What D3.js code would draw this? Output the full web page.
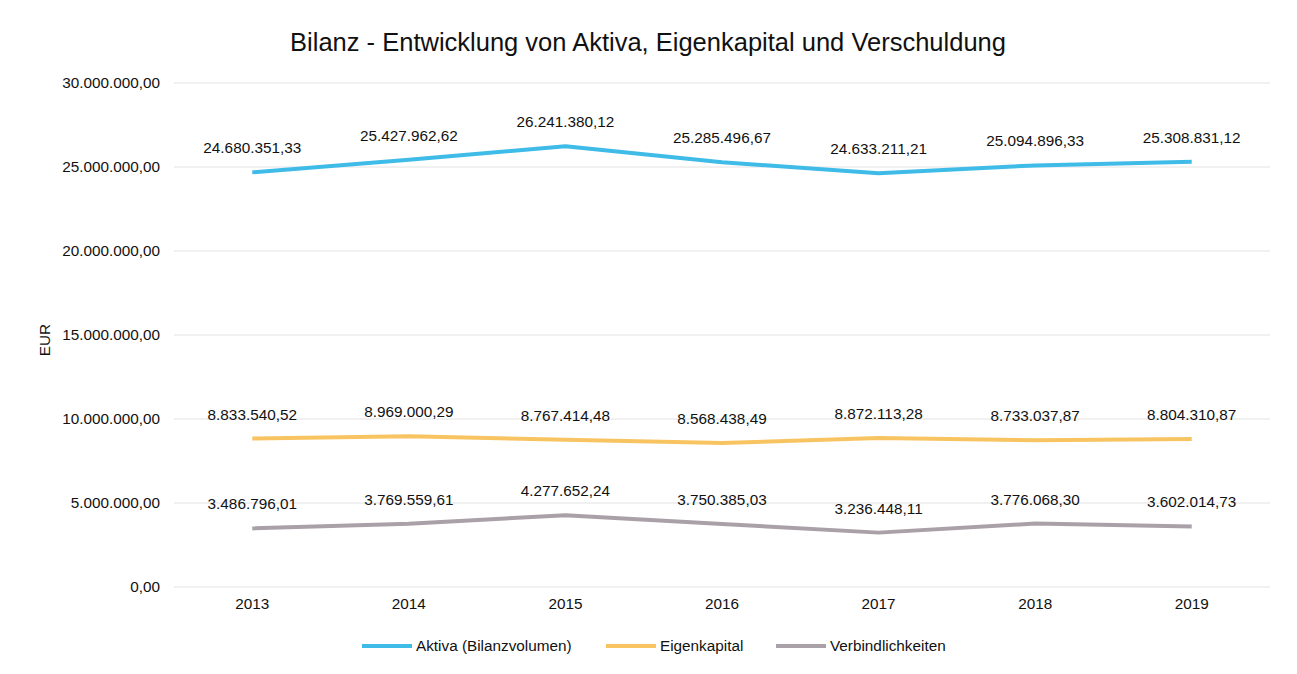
<!DOCTYPE html>
<html>
<head>
<meta charset="utf-8">
<script src="https://cdn.jsdelivr.net/npm/d3@7"></script>
<style>
  body { margin: 0; background: #fff; }
  svg { font-family: "Liberation Sans", Arial, sans-serif; }
</style>
</head>
<body>
<svg id="chart" width="1297" height="674"></svg>
<script>
const years = ["2013", "2014", "2015", "2016", "2017", "2018", "2019"];
const aktiva = [24680351.33, 25427962.62, 26241380.12, 25285496.67, 24633211.21, 25094896.33, 25308831.12];
const eigenkapital = [8833540.52, 8969000.29, 8767414.48, 8568438.49, 8872113.28, 8733037.87, 8804310.87];
const verbindlichkeiten = [3486796.01, 3769559.61, 4277652.24, 3750385.03, 3236448.11, 3776068.30, 3602014.73];
const seriesNames = ["Aktiva (Bilanzvolumen)", "Eigenkapital", "Verbindlichkeiten"];
const yTicks = [0, 5000000, 10000000, 15000000, 20000000, 25000000, 30000000];
const colors = ["#3fbbe8", "#f8c462", "#aaa0a8"];

const series = [aktiva, eigenkapital, verbindlichkeiten];

const svg = d3.select("#chart");
const mLeft = 174, mRight = 1270, mTop = 83, mBottom = 587;
const fs = 15.3;

const x = d3.scaleBand().domain(years).range([mLeft, mRight]);
const y = d3.scaleLinear().domain([0, 30000000]).range([mBottom, mTop]);

const deFmt = d3.formatLocale({decimal: ",", thousands: ".", grouping: [3], currency: ["", " €"]});
const fmt = deFmt.format(",.2f");

// gridlines
svg.append("g").selectAll("line").data(yTicks).join("line")
  .attr("x1", mLeft).attr("x2", mRight)
  .attr("y1", d => y(d)).attr("y2", d => y(d))
  .attr("stroke", "#e2e2e2").attr("stroke-width", 1);

// y axis
const yAxis = d3.axisLeft(y).tickValues(yTicks).tickFormat(fmt).tickSize(0).tickPadding(14);
const gy = svg.append("g").attr("transform", `translate(${mLeft},0)`).call(yAxis);
gy.select(".domain").remove();
gy.selectAll("text").attr("font-size", fs).attr("fill", "#111").attr("font-family", "Liberation Sans, Arial, sans-serif");

// x axis
const xAxis = d3.axisBottom(x).tickSize(0).tickPadding(11);
const gx = svg.append("g").attr("transform", `translate(0,${mBottom})`).call(xAxis);
gx.select(".domain").remove();
gx.selectAll("text").attr("font-size", fs).attr("fill", "#111").attr("font-family", "Liberation Sans, Arial, sans-serif");

const cx = d => x(d) + x.bandwidth() / 2;

const line = d3.line().x((d, i) => cx(years[i])).y(d => y(d));

series.forEach((s, k) => {
  svg.append("path").datum(s)
    .attr("d", line)
    .attr("fill", "none")
    .attr("stroke", colors[k])
    .attr("stroke-width", 4)
    .attr("stroke-linejoin", "round");
  svg.append("g").selectAll("text").data(s).join("text")
    .attr("x", (d, i) => cx(years[i]))
    .attr("y", d => y(d) - 19)
    .attr("text-anchor", "middle")
    .attr("font-size", fs)
    .attr("fill", "#111")
    .text(d => fmt(d));
});

// title
svg.append("text")
  .attr("x", 648).attr("y", 51)
  .attr("text-anchor", "middle")
  .attr("font-size", 25.5)
  .attr("fill", "#111")
  .text("Bilanz - Entwicklung von Aktiva, Eigenkapital und Verschuldung");

// y axis title
svg.append("text")
  .attr("transform", "translate(50,340) rotate(-90)")
  .attr("text-anchor", "middle")
  .attr("font-size", fs)
  .attr("fill", "#111")
  .text("EUR");

// legend
const legendX = [362, 606, 776];
const lg = svg.append("g");
seriesNames.forEach((n, k) => {
  lg.append("line")
    .attr("x1", legendX[k]).attr("x2", legendX[k] + 50)
    .attr("y1", 646).attr("y2", 646)
    .attr("stroke", colors[k]).attr("stroke-width", 4);
  lg.append("text")
    .attr("x", legendX[k] + 54).attr("y", 651)
    .attr("font-size", fs).attr("fill", "#111")
    .text(n);
});
</script>
</body>
</html>
